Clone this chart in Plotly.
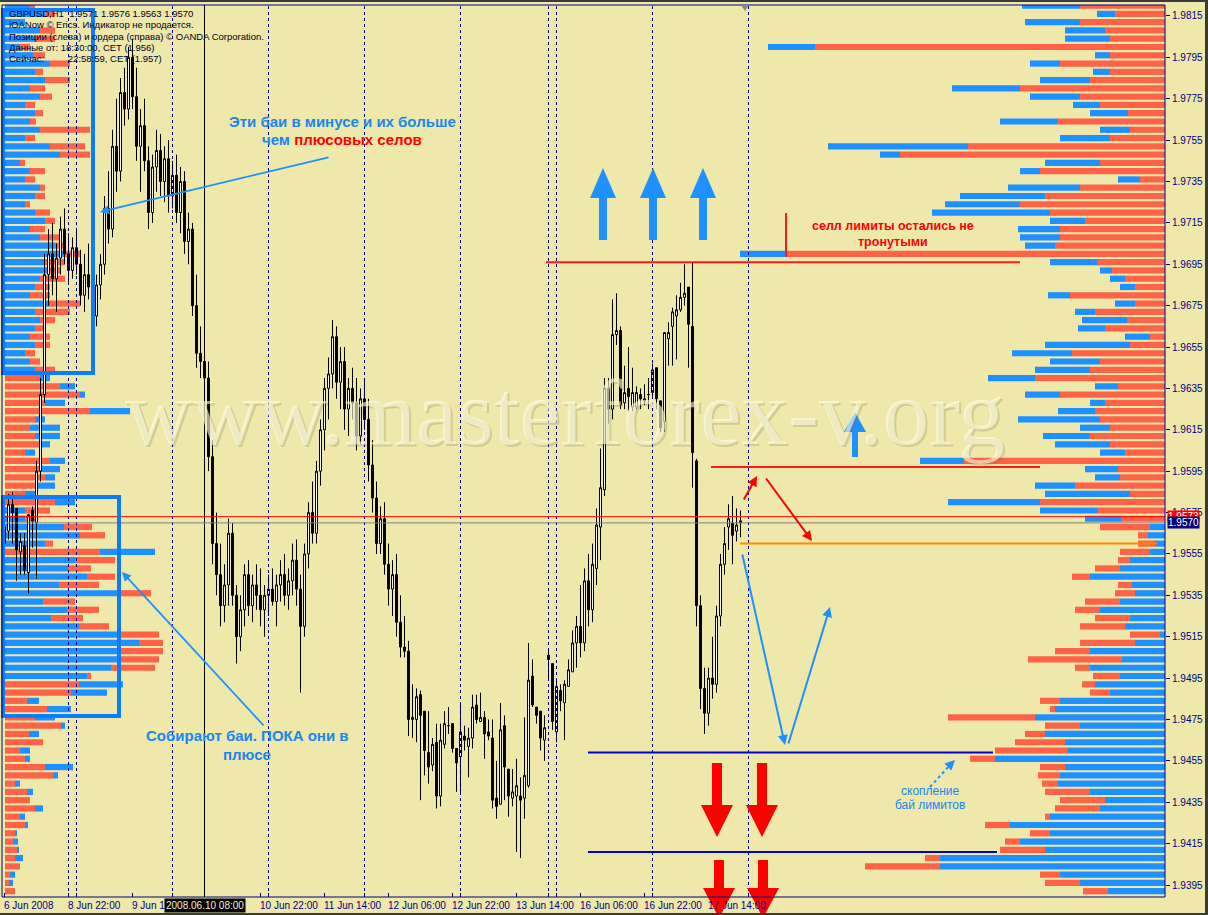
import plotly.graph_objects as go

# ---------------- price data (GBPUSD H1) ----------------
bar_open = [
    1.9560, 1.9566, 1.9579, 1.9577, 1.9556, 1.9559, 1.9546, 1.9576, 1.9570, 1.9595,
    1.9632, 1.9690, 1.9700, 1.9688, 1.9698, 1.9712, 1.9700, 1.9692, 1.9703, 1.9695,
    1.9680, 1.9690, 1.9684, 1.9670, 1.9685, 1.9695, 1.9722, 1.9712, 1.9752, 1.9740,
    1.9778, 1.9770, 1.9795, 1.9776, 1.9752, 1.9762, 1.9745, 1.9720, 1.9742, 1.9750,
    1.9735, 1.9746, 1.9728, 1.9738, 1.9720, 1.9735, 1.9706, 1.9712, 1.9675, 1.9652,
    1.9648, 1.9640, 1.9602, 1.9560, 1.9545, 1.9530, 1.9540, 1.9565, 1.9535, 1.9515,
    1.9528, 1.9545, 1.9530, 1.9540, 1.9535, 1.9528, 1.9535, 1.9538, 1.9532, 1.9540,
    1.9545, 1.9535, 1.9542, 1.9552, 1.9538, 1.9520, 1.9555, 1.9575, 1.9565, 1.9595,
    1.9615, 1.9635, 1.9642, 1.9660, 1.9638, 1.9648, 1.9625, 1.9635, 1.9628, 1.9612,
    1.9630, 1.9620, 1.9598, 1.9582, 1.9560, 1.9572, 1.9550, 1.9538, 1.9545, 1.9522,
    1.9510, 1.9508, 1.9475, 1.9475, 1.9487, 1.9479, 1.9459, 1.9453, 1.9464, 1.9438,
    1.9463, 1.9472, 1.9473, 1.9461, 1.9457, 1.9467, 1.9462, 1.9466, 1.9482, 1.9474,
    1.9476, 1.9469, 1.9466, 1.9437, 1.9434, 1.9472, 1.9451, 1.9437, 1.9438, 1.9438,
    1.9437, 1.9443, 1.9496, 1.9481, 1.9479, 1.9465, 1.9506, 1.9502, 1.9469, 1.9489,
    1.9483, 1.9491, 1.9498, 1.9512, 1.9520, 1.9512, 1.9542, 1.9528, 1.9548, 1.9568,
    1.9586, 1.9635, 1.9625, 1.9661, 1.9663, 1.9628, 1.9635, 1.9626, 1.9626, 1.9632,
    1.9629, 1.9632, 1.9633, 1.9645, 1.9629, 1.9619, 1.9659, 1.9665, 1.9670, 1.9673,
    1.9679, 1.9684, 1.9665, 1.9600, 1.9530, 1.9490, 1.9478, 1.9495, 1.9492, 1.9525,
    1.9550, 1.9568, 1.9570, 1.9566, 1.9571,
]
bar_high = [
    1.9575, 1.9584, 1.9585, 1.9577, 1.9565, 1.9565, 1.9574, 1.9578, 1.9600, 1.9640,
    1.9700, 1.9712, 1.9715, 1.9705, 1.9718, 1.9722, 1.9710, 1.9708, 1.9712, 1.9702,
    1.9700, 1.9705, 1.9694, 1.9690, 1.9700, 1.9728, 1.9740, 1.9760, 1.9775, 1.9785,
    1.9790, 1.9800, 1.9804, 1.9790, 1.9770, 1.9775, 1.9752, 1.9748, 1.9760, 1.9758,
    1.9752, 1.9755, 1.9745, 1.9748, 1.9742, 1.9740, 1.9720, 1.9715, 1.9690, 1.9665,
    1.9658, 1.9648, 1.9610, 1.9575, 1.9560, 1.9550, 1.9572, 1.9570, 1.9540, 1.9535,
    1.9550, 1.9552, 1.9545, 1.9550, 1.9548, 1.9540, 1.9545, 1.9548, 1.9545, 1.9552,
    1.9555, 1.9548, 1.9560, 1.9562, 1.9545, 1.9560, 1.9580, 1.9590, 1.9600, 1.9620,
    1.9640, 1.9650, 1.9668, 1.9665, 1.9655, 1.9655, 1.9640, 1.9645, 1.9640, 1.9635,
    1.9640, 1.9630, 1.9610, 1.9590, 1.9578, 1.9580, 1.9560, 1.9552, 1.9555, 1.9535,
    1.9525, 1.9513, 1.9492, 1.9490, 1.9489, 1.9479, 1.9479, 1.9466, 1.9473, 1.9473,
    1.9479, 1.9481, 1.9473, 1.9461, 1.9483, 1.9472, 1.9471, 1.9487, 1.9487, 1.9488,
    1.9479, 1.9475, 1.9475, 1.9455, 1.9483, 1.9477, 1.9451, 1.9451, 1.9456, 1.9447,
    1.9476, 1.9512, 1.9504, 1.9481, 1.9479, 1.9477, 1.9509, 1.9502, 1.9494, 1.9492,
    1.9494, 1.9504, 1.9518, 1.9525, 1.9540, 1.9548, 1.9555, 1.9560, 1.9577, 1.9606,
    1.9640, 1.9640, 1.9678, 1.9681, 1.9665, 1.9646, 1.9655, 1.9645, 1.9636, 1.9635,
    1.9637, 1.9640, 1.9647, 1.9645, 1.9629, 1.9662, 1.9667, 1.9674, 1.9680, 1.9686,
    1.9695, 1.9684, 1.9696, 1.9601, 1.9535, 1.9500, 1.9500, 1.9515, 1.9530, 1.9555,
    1.9568, 1.9579, 1.9583, 1.9577, 1.9576,
]
bar_low = [
    1.9548, 1.9562, 1.9560, 1.9542, 1.9545, 1.9545, 1.9536, 1.9558, 1.9543, 1.9590,
    1.9628, 1.9675, 1.9680, 1.9672, 1.9690, 1.9695, 1.9685, 1.9688, 1.9690, 1.9675,
    1.9672, 1.9678, 1.9660, 1.9665, 1.9678, 1.9690, 1.9705, 1.9708, 1.9730, 1.9735,
    1.9762, 1.9765, 1.9770, 1.9745, 1.9730, 1.9740, 1.9712, 1.9715, 1.9730, 1.9728,
    1.9725, 1.9720, 1.9722, 1.9715, 1.9710, 1.9700, 1.9695, 1.9670, 1.9645, 1.9640,
    1.9630, 1.9595, 1.9550, 1.9535, 1.9520, 1.9522, 1.9530, 1.9530, 1.9502, 1.9508,
    1.9520, 1.9525, 1.9522, 1.9528, 1.9520, 1.9515, 1.9525, 1.9530, 1.9520, 1.9532,
    1.9530, 1.9528, 1.9535, 1.9530, 1.9488, 1.9515, 1.9548, 1.9560, 1.9560, 1.9588,
    1.9605, 1.9620, 1.9635, 1.9630, 1.9625, 1.9615, 1.9612, 1.9620, 1.9605, 1.9608,
    1.9615, 1.9590, 1.9575, 1.9555, 1.9555, 1.9545, 1.9530, 1.9525, 1.9515, 1.9505,
    1.9505, 1.9467, 1.9466, 1.9464, 1.9436, 1.9448, 1.9444, 1.9450, 1.9432, 1.9433,
    1.9461, 1.9468, 1.9459, 1.9440, 1.9440, 1.9460, 1.9447, 1.9461, 1.9473, 1.9474,
    1.9456, 1.9465, 1.9432, 1.9427, 1.9434, 1.9436, 1.9428, 1.9433, 1.9411, 1.9408,
    1.9427, 1.9442, 1.9481, 1.9473, 1.9460, 1.9455, 1.9494, 1.9470, 1.9464, 1.9479,
    1.9465, 1.9491, 1.9498, 1.9500, 1.9505, 1.9508, 1.9520, 1.9522, 1.9540, 1.9552,
    1.9583, 1.9618, 1.9620, 1.9656, 1.9625, 1.9625, 1.9624, 1.9624, 1.9625, 1.9625,
    1.9627, 1.9625, 1.9630, 1.9625, 1.9614, 1.9614, 1.9646, 1.9646, 1.9649, 1.9672,
    1.9675, 1.9645, 1.9587, 1.9520, 1.9480, 1.9468, 1.9472, 1.9485, 1.9488, 1.9520,
    1.9545, 1.9557, 1.9550, 1.9561, 1.9563,
]
bar_close = [
    1.9568, 1.9579, 1.9575, 1.9557, 1.9561, 1.9547, 1.9574, 1.9571, 1.9595, 1.9632,
    1.9690, 1.9700, 1.9688, 1.9698, 1.9712, 1.9700, 1.9692, 1.9703, 1.9695, 1.9680,
    1.9690, 1.9684, 1.9670, 1.9685, 1.9695, 1.9722, 1.9712, 1.9752, 1.9740, 1.9778,
    1.9770, 1.9795, 1.9776, 1.9752, 1.9762, 1.9745, 1.9720, 1.9742, 1.9750, 1.9735,
    1.9746, 1.9728, 1.9738, 1.9720, 1.9735, 1.9706, 1.9712, 1.9675, 1.9652, 1.9648,
    1.9640, 1.9602, 1.9560, 1.9545, 1.9530, 1.9540, 1.9565, 1.9535, 1.9515, 1.9528,
    1.9545, 1.9530, 1.9540, 1.9535, 1.9528, 1.9535, 1.9538, 1.9532, 1.9540, 1.9545,
    1.9535, 1.9542, 1.9552, 1.9538, 1.9520, 1.9555, 1.9575, 1.9565, 1.9595, 1.9615,
    1.9635, 1.9642, 1.9660, 1.9638, 1.9648, 1.9625, 1.9635, 1.9628, 1.9612, 1.9630,
    1.9620, 1.9598, 1.9582, 1.9560, 1.9572, 1.9550, 1.9538, 1.9545, 1.9522, 1.9510,
    1.9508, 1.9475, 1.9476, 1.9486, 1.9477, 1.9460, 1.9452, 1.9463, 1.9438, 1.9465,
    1.9473, 1.9472, 1.9461, 1.9454, 1.9469, 1.9465, 1.9466, 1.9481, 1.9475, 1.9476,
    1.9468, 1.9467, 1.9436, 1.9433, 1.9470, 1.9452, 1.9438, 1.9440, 1.9443, 1.9436,
    1.9448, 1.9494, 1.9482, 1.9477, 1.9466, 1.9471, 1.9504, 1.9474, 1.9491, 1.9484,
    1.9492, 1.9499, 1.9512, 1.9520, 1.9512, 1.9542, 1.9528, 1.9550, 1.9569, 1.9587,
    1.9635, 1.9625, 1.9661, 1.9663, 1.9627, 1.9633, 1.9631, 1.9633, 1.9633, 1.9630,
    1.9630, 1.9632, 1.9644, 1.9630, 1.9616, 1.9662, 1.9662, 1.9672, 1.9673, 1.9679,
    1.9681, 1.9666, 1.9604, 1.9530, 1.9490, 1.9478, 1.9495, 1.9492, 1.9525, 1.9550,
    1.9560, 1.9572, 1.9564, 1.9569, 1.9570,
]

# time axis labels (bar index -> label)
time_tick_bars = [0, 16, 32, 64, 80, 96, 112, 128, 144, 160, 176]
time_tick_text = ["6 Jun 2008", "8 Jun 22:00", "9 Jun 14:00", "10 Jun 22:00", "11 Jun 14:00",
                  "12 Jun 06:00", "12 Jun 22:00", "13 Jun 14:00", "16 Jun 06:00",
                  "16 Jun 22:00", "17 Jun 14:00"]
day_separator_bars = [16, 18, 42, 66, 90, 114, 136, 138, 162, 186]
cursor_bar = 50
cursor_text = "2008.06.10 08:00"

price_ticks = [1.9395, 1.9415, 1.9435, 1.9455, 1.9475, 1.9495, 1.9515, 1.9535, 1.9555, 1.9575,
               1.9595, 1.9615, 1.9635, 1.9655, 1.9675, 1.9695, 1.9715, 1.9735, 1.9755, 1.9775,
               1.9795, 1.9815]
bid_price = 1.9570
ask_price = 1.9573

# ---------------- OANDA books (percent per 0.0004 level, from 1.9820 down) ----------------
book_top = 1.9820
book_step = 0.0004

order_sell = [
    0.85, 0.50, 0.85, 0.60, 0.55, 3.50, 0.55, 1.05, 0.55, 0.75,
    1.45, 0.85, 0.65, 0.37, 1.07, 0.35, 0.55, 1.97, 2.65, 0.65,
    1.25, 0.25, 0.85, 1.20, 1.45, 1.15, 0.80, 1.05, 1.05, 1.10,
    3.78, 0.67, 0.53, 0.40, 0.30, 0.95, 0.30, 0.70, 0.38, 0.60,
    0.15, 0.35, 0.93, 0.65, 0.75, 1.30, 0.47, 1.05, 0.60, 0.70,
    0.65, 0.55, 0.75, 0.55, 0.40, 2.01, 0.47, 0.45, 0.90, 0.35,
    1.25, 0.67, 0.43,
    0.50, 0.10, 0.17, 0.30, 0.12, 0.25, 0.18, 0.14, 0.20, 0.35,
    0.25, 0.35, 0.45, 0.30, 0.55, 0.35, 0.94, 0.15, 0.27, 0.13,
    0.20, 0.20, 0.05, 0.87, 0.35, 0.20, 0.50, 0.73, 0.25, 0.25,
    0.22, 0.16, 0.45, 0.45, 0.45, 0.05, 0.25, 0.20, 0.15, 0.45,
    0.15, 0.75, 0.20, 0.35, 0.25,
]
order_buy = [
    0.58, 0.18, 0.55, 0.40, 0.45, 0.47, 0.15, 0.30, 0.17, 0.50,
    0.68, 0.50, 0.27, 0.38, 0.58, 0.30, 0.50, 1.40, 0.20, 0.55,
    0.20, 0.22, 0.72, 0.85, 0.75, 1.18, 0.35, 0.42, 0.40, 0.30,
    0.47, 0.48, 0.12, 0.15, 0.15, 0.22, 0.20, 0.20, 0.45, 0.27,
    0.25, 0.85, 0.60, 0.50, 0.55, 0.47, 0.23, 0.35, 0.15, 0.37,
    0.82, 0.30, 0.47, 0.55, 0.25, 0.44, 0.33, 0.25, 0.40, 0.85,
    0.92, 0.58, 0.37,
    0.15, 0.17, 0.10, 0.15, 0.35, 0.45, 0.75, 0.33, 0.30, 0.45,
    0.65, 0.35, 0.40, 0.05, 0.30, 0.75, 0.43, 0.75, 0.45, 0.70,
    0.55, 1.05, 1.10, 1.30, 0.85, 1.20, 1.00, 0.97, 1.70, 1.00,
    1.05, 1.07, 0.75, 0.60, 0.65, 1.15, 1.55, 1.15, 1.45, 1.20,
    2.25, 2.25, 1.05, 0.85, 0.57,
]

pos_long = [
    0.25, 0.40, 0.20, 0.35, 0.30, 0.15, 0.28, 0.45, 0.30, 0.40,
    0.25, 0.35, 0.20, 0.30, 0.25, 0.35, 0.20, 0.45, 0.55, 0.15,
    0.25, 0.20, 0.35, 0.30, 0.20, 0.30, 0.40, 0.25, 0.35, 0.50,
    0.60, 0.40, 0.45, 0.35, 0.30, 0.25, 0.45, 0.30, 0.35, 0.30,
    0.25, 0.30, 0.20, 0.25, 0.30, 0.10, 0.15, 0.05, 0.20, 0.40,
    0.10, 0.30, 0.25, 0.10, 0.10, 0.15, 0.20, 0.10, 0.20, 0.10,
    0.20, 0.20, 0.20, 0.59, 0.75, 0.40, 0.55, 0.70, 0.63, 0.82,
    0.54, 1.14, 0.38, 0.62, 0.46, 0.74, 1.14, 1.34, 1.14, 1.14,
    1.06, 0.82, 0.44, 0.36, 0.12, 0.24, 0.20, 0.04, 0.10, 0.00,
    0.10, 0.05, 0.28, 0.05, 0.05, 0.06, 0.00, 0.08, 0.05, 0.03,
    0.02, 0.05, 0.02, 0.08, 0.00, 0.05, 0.04, 0.00,
]
pos_short = [
    0.05, 0.10, 0.00, 0.15, 0.20, 0.10, 0.12, 0.20, 0.08, 0.25,
    0.15, 0.12, 0.10, 0.08, 0.06, 0.50, 0.10, 0.35, 0.30, 0.05,
    0.15, 0.10, 0.05, 0.10, 0.05, 0.15, 0.10, 0.15, 0.20, 0.10,
    0.15, 0.20, 0.10, 0.25, 0.15, 0.20, 0.30, 0.35, 0.15, 0.10,
    0.20, 0.15, 0.10, 0.10, 0.20, 0.35, 0.55, 0.75, 0.40, 0.85,
    0.30, 0.25, 0.30, 0.35, 0.20, 0.45, 0.35, 0.40, 0.30, 0.20,
    0.50, 0.25, 0.10, 0.28, 0.25, 0.08, 0.95, 0.40, 0.23, 0.28,
    0.40, 0.32, 0.32, 0.32, 0.32, 0.30, 0.40, 0.24, 0.44, 0.40,
    0.44, 0.04, 0.74, 0.66, 0.22, 0.42, 0.30, 0.56, 0.24, 0.38,
    0.15, 0.20, 0.40, 0.48, 0.10, 0.22, 0.25, 0.30, 0.15, 0.20,
    0.10, 0.08, 0.12, 0.10, 0.15, 0.05, 0.04, 0.10,
]
# which side is drawn first (next to the left edge): L = long, S = short
pos_first = ("LLLLLLLLLL" "LLLLLLLLLL" "LLLLLLLLLL" "LLLLLLLLLL" "LLLLLSSSSS"
             "SSSSSSSSSS" "SLLLLLSLLL" "LLLLLLLLLL" "LLSSSSSSSS" "SSSSSSSSSS"
             "SSSSSSSS")

# ---------------- styling ----------------
BG = "#EEE8AA"
NAVY = "#000080"
RED = "#FF6347"
BLUE = "#1E90FF"
ANN_BLUE = "#1A86F0"
W, H = 1208, 915
ML, MR, MT, MB = 2, 43, 5, 18
PW, PH = W - ML - MR, H - MT - MB
BOOK_SPAN = PW / 100.0  # percent units across plot width


def px(x):
    return (x - ML) / PW


def py(y):
    return (H - MB - y) / PH


levels = [round(book_top - book_step * k, 4) for k in range(len(order_sell))]

# right book: inner segment next to axis
ob_inner, ob_outer, ob_inner_c, ob_outer_c = [], [], [], []
for lv, s, b in zip(levels, order_sell, order_buy):
    if lv > bid_price:
        ob_inner.append(s); ob_outer.append(b); ob_inner_c.append(RED); ob_outer_c.append(BLUE)
    else:
        ob_inner.append(b); ob_outer.append(s); ob_inner_c.append(BLUE); ob_outer_c.append(RED)

pb_inner, pb_outer, pb_inner_c, pb_outer_c = [], [], [], []
for lg, sh, f in zip(pos_long, pos_short, pos_first):
    if f == "L":
        pb_inner.append(lg); pb_outer.append(sh); pb_inner_c.append(BLUE); pb_outer_c.append(RED)
    else:
        pb_inner.append(sh); pb_outer.append(lg); pb_inner_c.append(RED); pb_outer_c.append(BLUE)

fig = go.Figure()
bw = book_step * 0.75
fig.add_trace(go.Bar(y=levels, x=pb_inner, base=0, orientation="h", width=bw,
                     marker=dict(color=pb_inner_c, line=dict(width=0)), xaxis="x", yaxis="y",
                     hoverinfo="skip", showlegend=False))
fig.add_trace(go.Bar(y=levels, x=pb_outer, base=pb_inner, orientation="h", width=bw,
                     marker=dict(color=pb_outer_c, line=dict(width=0)), xaxis="x", yaxis="y",
                     hoverinfo="skip", showlegend=False))
fig.add_trace(go.Bar(y=levels, x=ob_inner, base=0, orientation="h", width=bw,
                     marker=dict(color=ob_inner_c, line=dict(width=0)), xaxis="x2", yaxis="y",
                     hoverinfo="skip", showlegend=False))
fig.add_trace(go.Bar(y=levels, x=ob_outer, base=ob_inner, orientation="h", width=bw,
                     marker=dict(color=ob_outer_c, line=dict(width=0)), xaxis="x2", yaxis="y",
                     hoverinfo="skip", showlegend=False))

fig.add_trace(go.Candlestick(
    x=list(range(len(bar_open))), open=bar_open, high=bar_high, low=bar_low, close=bar_close,
    xaxis="x3", yaxis="y", whiskerwidth=0,
    increasing=dict(line=dict(color="black", width=1), fillcolor="white"),
    decreasing=dict(line=dict(color="black", width=1), fillcolor="black"),
    hoverinfo="skip", showlegend=False))

shapes = []
annotations = []

# day separators and cursor line
for b in day_separator_bars:
    shapes.append(dict(type="line", xref="x3", yref="paper", x0=b, x1=b, y0=0, y1=1,
                       line=dict(color=NAVY, width=1, dash="3px,3px"), layer="above"))
shapes.append(dict(type="line", xref="x3", yref="paper", x0=cursor_bar, x1=cursor_bar, y0=0, y1=1,
                   line=dict(color="black", width=1), layer="above"))

# bid / ask lines
shapes.append(dict(type="line", xref="paper", yref="y", x0=0, x1=1, y0=ask_price, y1=ask_price,
                   line=dict(color="#FF0000", width=1), layer="above"))
shapes.append(dict(type="line", xref="paper", yref="y", x0=0, x1=1, y0=bid_price, y1=bid_price,
                   line=dict(color="#808080", width=1), layer="above"))


# drawn levels
def hline(price, x0, x1, color, width=2):
    shapes.append(dict(type="line", xref="paper", yref="y", x0=px(x0), x1=px(x1), y0=price, y1=price,
                       line=dict(color=color, width=width), layer="above"))


hline(1.9696, 546, 1020, "#FF1A1A")
hline(1.9597, 711, 1040, "#FF1A1A")
hline(1.9560, 740, 1157, "#FF8C00")
hline(1.9459, 588, 993, "#0000CD")
hline(1.9411, 588, 997, "#0000CD")
shapes.append(dict(type="line", xref="paper", yref="paper", x0=px(786), x1=px(786), y0=py(213), y1=py(257),
                   line=dict(color="#FF1A1A", width=2), layer="above"))

# highlight rectangles
for (x0, y0, x1, y1) in [(3, 10, 93, 373), (3, 497, 119, 716)]:
    shapes.append(dict(type="rect", xref="paper", yref="paper", x0=px(x0), x1=px(x1), y0=py(y0), y1=py(y1),
                       line=dict(color="#0A7CFF", width=4), layer="above"))


def fat_arrow(xc, y_tail, y_tip, head_len, head_hw, shaft_hw, color):
    d = 1 if y_tip > y_tail else -1
    yb = y_tip - d * head_len
    pts = [(xc, y_tip), (xc + head_hw, yb), (xc + shaft_hw, yb), (xc + shaft_hw, y_tail),
           (xc - shaft_hw, y_tail), (xc - shaft_hw, yb), (xc - head_hw, yb)]
    path = "M " + " L ".join(f"{px(a):.5f},{py(b):.5f}" for a, b in pts) + " Z"
    shapes.append(dict(type="path", xref="paper", yref="paper", path=path,
                       fillcolor=color, line=dict(color=color, width=0), layer="above"))


for xc in (603, 653, 703):
    fat_arrow(xc, 240, 168, 30, 13, 4, BLUE)
fat_arrow(855, 457, 412, 20, 11, 3, BLUE)
for xc in (717, 762):
    fat_arrow(xc, 763, 837, 32, 16, 5, "#FF0000")
for xc in (719, 763):
    fat_arrow(xc, 860, 918, 30, 16, 5, "#FF0000")

# dotted pointer
shapes.append(dict(type="line", xref="paper", yref="paper", x0=px(930), y0=py(787), x1=px(951), y1=py(764),
                   line=dict(color=BLUE, width=2, dash="dot"), layer="above"))

# frame and window edges
shapes.append(dict(type="rect", xref="paper", yref="paper", x0=0, x1=1, y0=0, y1=1,
                   line=dict(color=NAVY, width=1), layer="above"))
shapes.append(dict(type="rect", xref="paper", yref="paper", x0=px(0), x1=px(W), y0=py(0), y1=py(2),
                   line=dict(width=0), fillcolor="#3a3a3a", layer="above"))
shapes.append(dict(type="rect", xref="paper", yref="paper", x0=px(1205), x1=px(W), y0=py(H), y1=py(0),
                   line=dict(width=0), fillcolor="#3a3a3a", layer="above"))
shapes.append(dict(type="rect", xref="paper", yref="paper", x0=px(0), x1=px(W), y0=py(H), y1=py(913),
                   line=dict(width=0), fillcolor="#3a3a3a", layer="above"))
shapes.append(dict(type="path", xref="paper", yref="paper",
                   path=f"M {px(741):.5f},{py(5):.5f} L {px(749):.5f},{py(5):.5f} L {px(745):.5f},{py(11):.5f} Z",
                   fillcolor="#8a8a8a", line=dict(width=0), layer="above"))

# watermark
wm = "www.masterforex-v.org"
annotations.append(dict(text=wm, xref="paper", yref="paper", x=px(567), y=py(414), showarrow=False,
                        xanchor="center", yanchor="middle",
                        font=dict(family="Liberation Serif", size=93, color="rgba(120,105,50,0.22)")))
annotations.append(dict(text=wm, xref="paper", yref="paper", x=px(565), y=py(412), showarrow=False,
                        xanchor="center", yanchor="middle",
                        font=dict(family="Liberation Serif", size=93, color="rgba(255,252,225,0.62)")))

# header
header = ["GBPUSD,H1  1.9571 1.9576 1.9563 1.9570",
          "iOANow © Erics. Индикатор не продается.",
          "Позиции (слева) и ордера (справа) © OANDA Corporation.",
          "Данные от: 18:30:00, CET (1.956)",
          "Сейчас:\u00a0\u00a0\u00a0\u00a0\u00a0\u00a0\u00a0\u00a0\u00a022:58:59, CET (1.957)"]
for i, line in enumerate(header):
    annotations.append(dict(text=line, xref="paper", yref="paper", x=px(7), y=py(13 + 11.5 * i),
                            xanchor="left", yanchor="middle", showarrow=False,
                            font=dict(family="Liberation Sans", size=9.5, color="#00002a")))


def label(text, x, y, font):
    annotations.append(dict(text=text, xref="paper", yref="paper", x=px(x), y=py(y), showarrow=False,
                            xanchor="center", yanchor="middle", font=font))


bold = dict(family="Liberation Sans", size=15, color=ANN_BLUE)
label("<b>Эти баи в минусе и их больше</b>", 342, 121, bold)
label("<b>чем <span style='color:#FF0000'>плюсовых селов</span></b>", 342, 139, bold)
label("<b>Собирают баи. ПОКА они в</b>", 247, 735, bold)
label("<b>плюсе</b>", 247, 754, bold)
redf = dict(family="Liberation Sans", size=12.5, color="#FF0000")
label("<b>селл лимиты остались не</b>", 893, 226, redf)
label("<b>тронутыми</b>", 893, 242, redf)
smallf = dict(family="Liberation Sans", size=12, color=ANN_BLUE)
label("скопление", 930, 791, smallf)
label("бай лимитов", 930, 805, smallf)


def arrow(head, tail, color, width=2):
    annotations.append(dict(text="", xref="paper", yref="paper", x=px(head[0]), y=py(head[1]),
                            ax=tail[0] - head[0], ay=tail[1] - head[1], axref="pixel", ayref="pixel",
                            showarrow=True, arrowhead=2, arrowsize=1, arrowwidth=width,
                            arrowcolor=color))


arrow((100, 212), (330, 157), BLUE, 1.8)
arrow((122, 572), (265, 727), BLUE, 1.8)
arrow((757, 476), (743, 501), "#FF0000", 2)
arrow((812, 541), (765, 477), "#FF0000", 2)
arrow((785, 745), (742, 553), BLUE, 2)
arrow((830, 607), (788, 745), BLUE, 2)
arrow((955, 760), (950, 765), BLUE, 2)

# time labels
for b, t in zip(time_tick_bars, time_tick_text):
    annotations.append(dict(text=t, xref="x3", yref="paper", x=b - 0.3, y=py(899), xanchor="left",
                            yanchor="top", showarrow=False, borderpad=0,
                            font=dict(family="Liberation Sans", size=10, color=NAVY)))
annotations.append(dict(text=cursor_text, xref="x3", yref="paper", x=cursor_bar, y=py(898), xanchor="center",
                        yanchor="top", showarrow=False, bgcolor="black", borderpad=1,
                        font=dict(family="Liberation Sans", size=10, color="#F4F0D0")))

# price boxes
annotations.append(dict(text=f"{ask_price:.4f}", xref="paper", yref="y", x=px(1167), y=ask_price,
                        xanchor="left", yanchor="middle", showarrow=False, bgcolor="#FF0000", borderpad=0,
                        font=dict(family="Liberation Sans", size=10, color="white")))
annotations.append(dict(text=f"{bid_price:.4f}", xref="paper", yref="y", x=px(1167), y=bid_price,
                        xanchor="left", yanchor="middle", showarrow=False, bgcolor=NAVY, borderpad=0,
                        font=dict(family="Liberation Sans", size=10, color="white")))

fig.update_layout(
    width=W, height=H, margin=dict(l=ML, r=MR, t=MT, b=MB),
    paper_bgcolor=BG, plot_bgcolor=BG, barmode="overlay", showlegend=False,
    xaxis=dict(range=[-0.03, BOOK_SPAN - 0.03], visible=False, fixedrange=True),
    xaxis2=dict(range=[BOOK_SPAN, 0], overlaying="x", visible=False, fixedrange=True),
    xaxis3=dict(range=[-0.625, -0.625 + PW / 4.0], overlaying="x", side="bottom",
                rangeslider=dict(visible=False), showgrid=False, zeroline=False,
                tickvals=sorted(set(time_tick_bars + day_separator_bars)), showticklabels=False,
                ticks="inside", ticklen=4, tickcolor=NAVY, showline=False),
    yaxis=dict(side="right", range=[1.93892, 1.98203], tickvals=price_ticks,
               ticktext=[f"{p:.4f}" for p in price_ticks], ticks="outside", ticklen=4,
               tickcolor=NAVY, tickfont=dict(family="Liberation Sans", size=10, color=NAVY),
               showgrid=False, zeroline=False, showline=False),
    shapes=shapes, annotations=annotations,
)

fig.write_html("out.html", config={"displayModeBar": False},
               post_script="document.body.style.margin='0px';document.body.style.overflow='hidden';")
